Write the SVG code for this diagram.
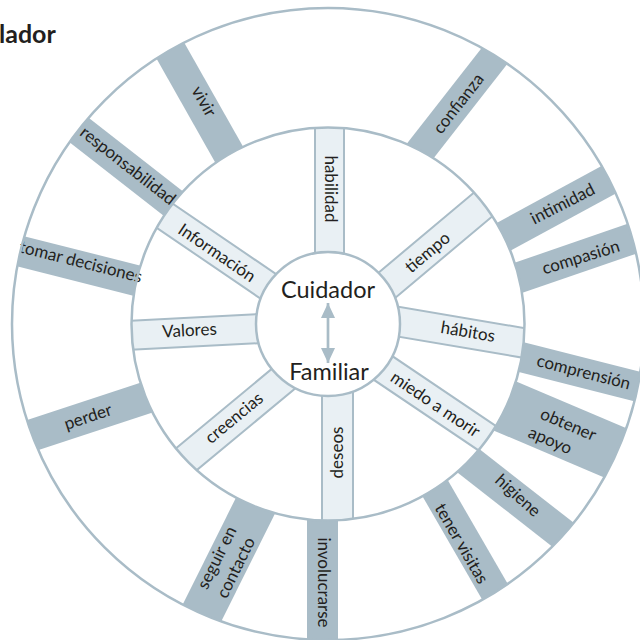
<svg xmlns="http://www.w3.org/2000/svg" width="640" height="640" viewBox="0 0 640 640">
<style>
.dk{fill:#a9bcc7}
.lt{fill:#e9f0f4;stroke:#a9bcc7;stroke-width:2}
.ring{fill:none;stroke:#a9bcc7;stroke-width:2.5}
.lbl{font-family:Lato,"Open Sans","Liberation Sans",sans-serif;font-size:17px;fill:#231f20;text-anchor:middle}
.big{font-family:Lato,"Open Sans","Liberation Sans",sans-serif;font-size:23.5px;fill:#231f20;text-anchor:middle}
.ttl{font-family:Lato,"Open Sans","Liberation Sans",sans-serif;font-size:25px;font-weight:bold;fill:#231f20}
</style>
<defs>
<clipPath id="outerRing"><path clip-rule="evenodd" d="M12,324A316,316 0 1,0 644,324A316,316 0 1,0 12,324ZM131.5,324A196.5,196.5 0 1,0 524.5,324A196.5,196.5 0 1,0 131.5,324Z"/></clipPath>
<clipPath id="innerRing"><path clip-rule="evenodd" d="M131.5,324A196.5,196.5 0 1,0 524.5,324A196.5,196.5 0 1,0 131.5,324ZM256,324A72,72 0 1,0 400,324A72,72 0 1,0 256,324Z"/></clipPath>
<marker id="ah" markerUnits="userSpaceOnUse" markerWidth="16" markerHeight="14" refX="15" refY="7" orient="auto-start-reverse"><path d="M0,0L15,7L0,14Z" fill="#a9bcc7"/></marker>
</defs>
<rect width="640" height="640" fill="#fff"/>
<text class="ttl" x="-1" y="43">lador</text>
<circle cx="328" cy="324" r="316" fill="#fff"/>

<!-- outer spokes -->
<g id="vivir"><g clip-path="url(#outerRing)"><rect class="dk" x="-100" y="-16" width="200" height="32" transform="translate(200.4,103.75) rotate(240.5)"/></g><text class="lbl" y="5" transform="translate(203.3,101.7) rotate(60.5)">vivir</text></g>
<g id="confianza"><g clip-path="url(#outerRing)"><rect class="dk" x="-100" y="-15" width="200" height="30" transform="translate(457.5,103.3) rotate(-52)"/></g><text class="lbl" y="5" transform="translate(459,104) rotate(-52)">confianza</text></g>
<g id="intimidad"><g clip-path="url(#outerRing)"><rect class="dk" x="-100" y="-15.5" width="200" height="31" transform="translate(557,207.8) rotate(-28.5)"/></g><text class="lbl" y="5" transform="translate(563,204.5) rotate(-27)">intimidad</text></g>
<g id="compasion"><g clip-path="url(#outerRing)"><rect class="dk" x="-100" y="-15.5" width="200" height="31" transform="translate(576,258) rotate(-19)"/></g><text class="lbl" y="5" transform="translate(581,258) rotate(-17)">compasión</text></g>
<g id="comprension"><g clip-path="url(#outerRing)"><rect class="dk" x="-100" y="-15" width="200" height="30" transform="translate(580,372) rotate(14.3)"/></g><text class="lbl" y="5" style="text-anchor:start" transform="translate(537,361) rotate(14.3)">comprensión</text></g>
<g id="obtener-apoyo"><g clip-path="url(#outerRing)"><rect class="dk" x="-100" y="-27" width="200" height="54" transform="translate(562.5,430.4) rotate(23)"/></g><text class="lbl" y="5" transform="translate(568,425) rotate(23)">obtener</text><text class="lbl" y="5" transform="translate(550,441) rotate(23)">apoyo</text></g>
<g id="higiene"><g clip-path="url(#outerRing)"><rect class="dk" x="-100" y="-16" width="200" height="32" transform="translate(516,498) rotate(38)"/></g><text class="lbl" y="5" transform="translate(517.5,496) rotate(42)">higiene</text></g>
<g id="tener-visitas"><g clip-path="url(#outerRing)"><rect class="dk" x="-100" y="-15" width="200" height="30" transform="translate(466.2,542) rotate(60)"/></g><text class="lbl" y="5" transform="translate(461,544) rotate(60)">tener visitas</text></g>
<g id="involucrarse"><g clip-path="url(#outerRing)"><rect class="dk" x="-100" y="-15.5" width="200" height="31" transform="translate(322.5,580) rotate(90)"/></g><text class="lbl" y="5" transform="translate(323,582.5) rotate(90)">involucrarse</text></g>
<g id="seguir-en-contacto"><g clip-path="url(#outerRing)"><rect class="dk" x="-100" y="-21" width="200" height="42" transform="translate(227.75,561.25) rotate(116.5)"/></g><text class="lbl" y="5" transform="translate(217.5,558) rotate(-63.5)">seguir en</text><text class="lbl" y="5" transform="translate(236.5,568) rotate(-63.5)">contacto</text></g>
<g id="perder"><g clip-path="url(#outerRing)"><rect class="dk" x="-100" y="-16" width="200" height="32" transform="translate(88.3,416.7) rotate(161.8)"/></g><text class="lbl" y="5" transform="translate(88.3,417.5) rotate(-18.2)">perder</text></g>
<g id="tomar-decisiones"><g clip-path="url(#outerRing)"><rect class="dk" x="-100" y="-15.5" width="200" height="31" transform="translate(77.5,265.7) rotate(194.2)"/></g><text class="lbl" y="5" transform="translate(80.5,262.5) rotate(14.2)">tomar decisiones</text></g>
<g id="responsabilidad"><g clip-path="url(#outerRing)"><rect class="dk" x="-100" y="-15.5" width="200" height="31" transform="translate(127.1,167.5) rotate(218)"/></g><text class="lbl" y="5" transform="translate(127.5,166.3) rotate(38)">responsabilidad</text></g>

<!-- inner spokes -->
<g id="habilidad"><g clip-path="url(#innerRing)"><rect class="lt" x="-90" y="-14.5" width="180" height="29" transform="translate(329.5,190) rotate(90)"/></g><text class="lbl" y="5" transform="translate(329.5,189) rotate(90)">habilidad</text></g>
<g id="tiempo"><g clip-path="url(#innerRing)"><rect class="lt" x="-90" y="-15" width="180" height="30" transform="translate(435.8,244.2) rotate(-40)"/></g><text class="lbl" y="5" transform="translate(428,253) rotate(-40)">tiempo</text></g>
<g id="habitos"><g clip-path="url(#innerRing)"><rect class="lt" x="-90" y="-14.75" width="180" height="29.5" transform="translate(462,332.5) rotate(9.6)"/></g><text class="lbl" y="6" transform="translate(468,331.5) rotate(9.6)">hábitos</text></g>
<g id="miedo-a-morir"><g clip-path="url(#innerRing)"><rect class="lt" x="-90" y="-15" width="180" height="30" transform="translate(438,405) rotate(34)"/></g><text class="lbl" y="5" transform="translate(435,405) rotate(34)">miedo a morir</text></g>
<g id="deseos"><g clip-path="url(#innerRing)"><rect class="lt" x="-90" y="-15.5" width="180" height="31" transform="translate(337.5,458) rotate(90)"/></g><text class="lbl" y="5" transform="translate(338,452.5) rotate(-90)">deseos</text></g>
<g id="creencias"><g clip-path="url(#innerRing)"><rect class="lt" x="-90" y="-15" width="180" height="30" transform="translate(234.25,419.5) rotate(140.3)"/></g><text class="lbl" y="5" transform="translate(234.5,418.5) rotate(-39.7)">creencias</text></g>
<g id="valores"><g clip-path="url(#innerRing)"><rect class="lt" x="-90" y="-14.5" width="180" height="29" transform="translate(194.5,332) rotate(177)"/></g><text class="lbl" y="5" transform="translate(189.5,331) rotate(-3)">Valores</text></g>
<g id="informacion"><g clip-path="url(#innerRing)"><rect class="lt" x="-90" y="-14.5" width="180" height="29" transform="translate(219,252.75) rotate(214.3)"/></g><text class="lbl" y="5" transform="translate(216.5,253.5) rotate(34.3)">Información</text></g>

<g id="rings">
<circle class="ring" cx="328" cy="324" r="316"/>
<circle class="ring" cx="328" cy="324" r="196.5"/>
</g>
<g id="center">
<circle cx="328" cy="324" r="72" fill="#fff" stroke="#a9bcc7" stroke-width="2.5"/>
<text class="big" x="328" y="298">Cuidador</text>
<text class="big" x="329" y="380">Familiar</text>
</g>
<g id="connectors">
<line x1="328" y1="303" x2="328" y2="363" stroke="#a9bcc7" stroke-width="2.7" marker-start="url(#ah)" marker-end="url(#ah)"/>
</g>
</svg>
